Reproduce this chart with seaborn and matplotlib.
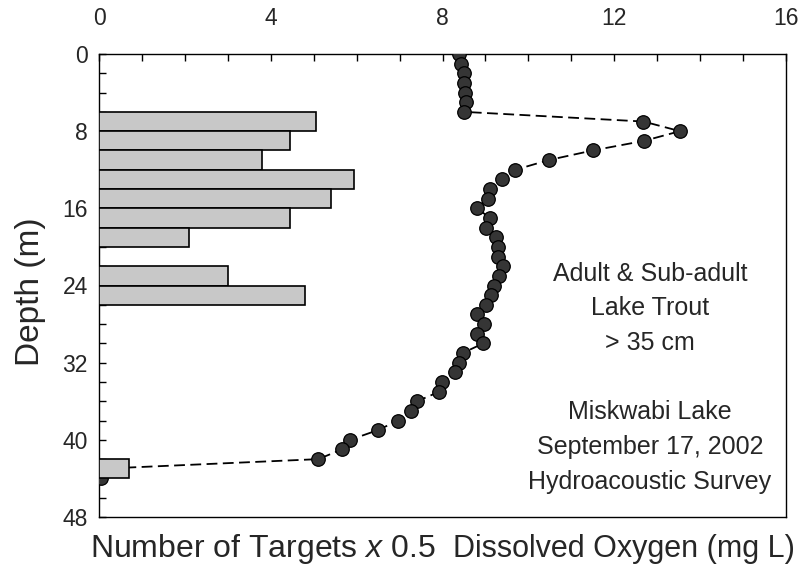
import matplotlib
matplotlib.use("Agg")
import matplotlib.pyplot as plt
import seaborn as sns
import numpy as np
import pandas as pd

# Hydroacoustic targets (count x 0.5) per 2 m depth bin, bin centres in metres
bin_depth = [7, 9, 11, 13, 15, 17, 19, 23, 25, 43]
targets_half = [5.05, 4.45, 3.8, 5.95, 5.4, 4.45, 2.1, 3.0, 4.8, 0.7]

# Dissolved oxygen profile (mg/L) by depth (m)
do_depth = [0, 1, 2, 3, 4, 5, 6, 7, 8, 9, 10, 11, 12, 13, 14, 15, 16, 17, 18,
            19, 20, 21, 22, 23, 24, 25, 26, 27, 28, 29, 30, 31, 32, 33, 34,
            35, 36, 37, 38, 39, 40, 41, 42, 43, 44]
do_mgl = [8.39, 8.44, 8.50, 8.51, 8.52, 8.54, 8.51, 12.68, 13.53, 12.70, 11.50,
          10.47, 9.70, 9.39, 9.11, 9.05, 8.80, 9.11, 9.02, 9.25, 9.30, 9.30,
          9.40, 9.32, 9.20, 9.14, 9.01, 8.81, 8.97, 8.80, 8.95, 8.47, 8.39,
          8.29, 7.98, 7.93, 7.41, 7.26, 6.97, 6.49, 5.85, 5.65, 5.11, 0.04, 0.04]

x_ticks = [0, 4, 8, 12, 16]
y_ticks = [0, 8, 16, 24, 32, 40, 48]

sns.set_theme(style="white")
plt.rcParams["font.family"] = ["Liberation Sans", "DejaVu Sans"]
plt.rcParams["mathtext.fontset"] = "custom"
plt.rcParams["mathtext.it"] = "Liberation Sans:italic"
plt.rcParams["mathtext.rm"] = "Liberation Sans"

fig = plt.figure(figsize=(8.01, 5.65), dpi=100)
W, H = 801, 565
ax = fig.add_axes([99 / W, 1 - 517 / H, (786 - 99) / W, (517 - 54) / H])

bars = pd.DataFrame({"depth": bin_depth, "targets": targets_half})
profile = pd.DataFrame({"depth": do_depth, "do": do_mgl})

# oxygen profile: dashed line with dark markers
sns.lineplot(data=profile, x="do", y="depth", sort=False, estimator=None,
             color="black", lw=1.3, dashes=False, ax=ax, zorder=2)
ax.lines[-1].set_dashes((6, 3))
sns.scatterplot(data=profile, x="do", y="depth", s=95, color="#353535",
                edgecolor="black", linewidth=0.9, ax=ax, zorder=3)

# target counts as horizontal bars from the left axis
sns.barplot(data=bars, x="targets", y="depth", orient="y", native_scale=True,
            width=1.0, color="#c8c8c8", edgecolor="black", linewidth=1.2,
            saturation=1, ax=ax, zorder=4)

ax.set_xlim(0, 16)
ax.set_ylim(48, 0)
ax.xaxis.tick_top()
ax.set_xticks(x_ticks)
ax.set_xticks(np.arange(0, 17, 1), minor=True)
ax.set_yticks(y_ticks)
ax.set_yticks(np.arange(0, 49, 2), minor=True)
ax.set_xticklabels([str(t) for t in x_ticks])
ax.set_yticklabels([str(t) for t in y_ticks])
ax.tick_params(axis="x", which="both", direction="in", length=5, width=1,
               color="black", top=True, bottom=False, labelsize=16.5, pad=17.5)
ax.tick_params(axis="y", which="both", direction="in", length=5, width=1,
               color="black", left=True, right=False, labelsize=16.5, pad=8)
ax.set_xlabel("")
ax.set_ylabel("")
for sp in ax.spines.values():
    sp.set_visible(True)
    sp.set_color("black")
    sp.set_linewidth(1.0)

fig.text(31 / W, 1 - 292 / H, "Depth (m)", rotation=90, ha="center",
         va="center", fontsize=24)
fig.text(90 / W, 1 - 549 / H, r"Number of Targets $\mathit{x\ 0.5}$",
         ha="left", va="center", fontsize=23)
fig.text(795 / W, 1 - 549 / H, "Dissolved Oxygen (mg L)", ha="right",
         va="center", fontsize=22)

ax.text(12.83, 33.55,
        "Adult & Sub-adult\nLake Trout\n> 35 cm\n\nMiskwabi Lake\n"
        "September 17, 2002\nHydroacoustic Survey",
        ha="center", va="center", fontsize=18, linespacing=1.56)

fig.savefig("out.png", dpi=100)
